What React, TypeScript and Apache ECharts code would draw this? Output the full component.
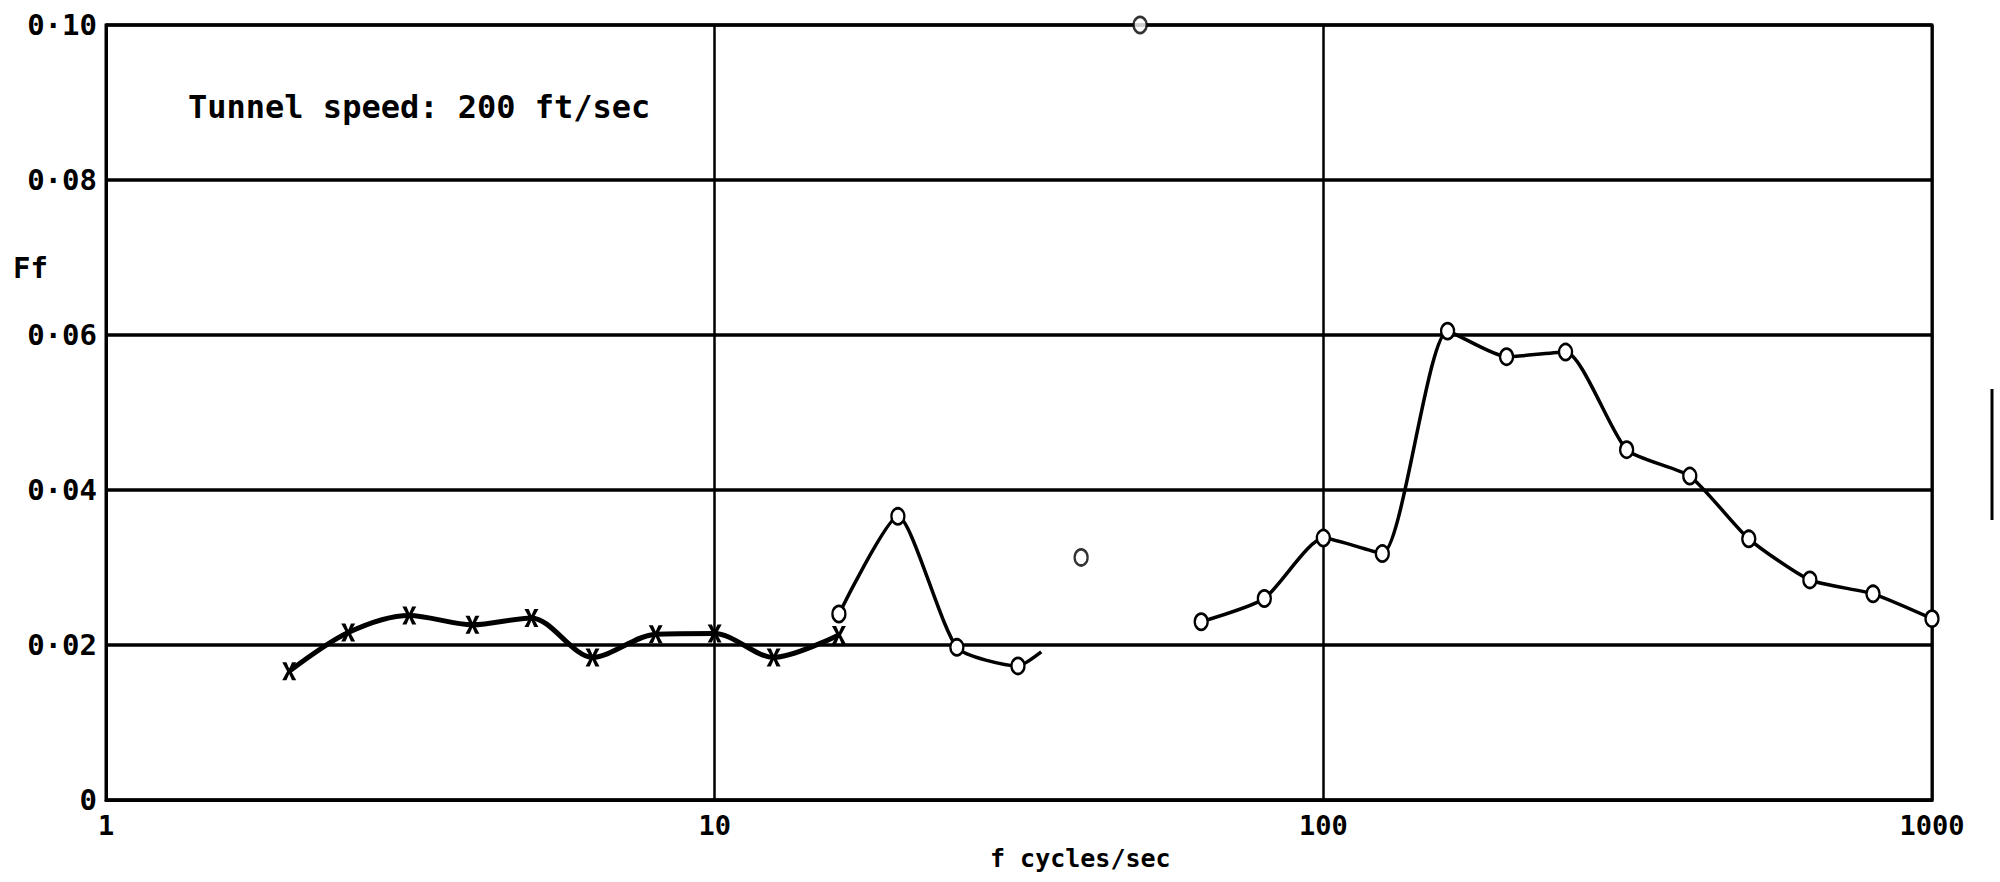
import React, { useEffect, useRef } from "react";
import * as echarts from "echarts";

// Crosses (x markers), one-third-octave frequencies
const FREQ_CROSS = [2, 2.5, 3.15, 4, 5, 6.3, 8, 10, 12.5, 16];
const FF_CROSS = [0.0166, 0.0216, 0.0238, 0.0226, 0.0235, 0.0184, 0.0214, 0.0215, 0.0184, 0.0213];

// Circles, low-frequency connected group (last entry is the curve's end, no marker)
const FREQ_LOW = [16, 20, 25, 31.5, 34.4];
const FF_LOW = [0.024, 0.0366, 0.0197, 0.0173, 0.0191];
const LOW_MARKED = [true, true, true, true, false];

// Isolated circles
const FREQ_ISO = [40, 50];
const FF_ISO = [0.0313, 0.1];

// Circles, high-frequency connected group
const FREQ_HIGH = [63, 80, 100, 125, 160, 200, 250, 315, 400, 500, 630, 800, 1000];
const FF_HIGH = [0.023, 0.026, 0.0338, 0.0318, 0.0605, 0.0572, 0.0578, 0.0452, 0.0418, 0.0337, 0.0284, 0.0266, 0.0234];

const X_TICKS = [1, 10, 100, 1000];
const Y_TICKS = [0, 0.02, 0.04, 0.06, 0.08, 0.1];

const FONT = "'DejaVu Sans Mono', monospace";
const CROSS_PATH =
  "path://M0,0 L3,0 L5,5 L7,0 L10,0 L6.5,7 L10,14 L7,14 L5,9 L3,14 L0,14 L3.5,7 Z";

export default function App() {
  const ref = useRef<HTMLDivElement>(null);

  useEffect(() => {
    document.body.style.margin = "0";
    const chart = echarts.init(ref.current!, undefined, { renderer: "svg" });

    const crossData = FREQ_CROSS.map((f, i) => [f, FF_CROSS[i]]);
    const lowData = FREQ_LOW.map((f, i) =>
      LOW_MARKED[i] ? [f, FF_LOW[i]] : { value: [f, FF_LOW[i]], symbol: "none" }
    );
    const isoData = FREQ_ISO.map((f, i) => [f, FF_ISO[i]]);
    const highData = FREQ_HIGH.map((f, i) => [f, FF_HIGH[i]]);

    const yFmt = (v: number) => {
      if (v === 0) return "0";
      const hundredths = Math.round(v * 100);
      return "0\u00B7" + String(hundredths).padStart(2, "0");
    };

    const circleStyle = {
      color: "#fff",
      borderColor: "#000",
      borderWidth: 2.5,
    };

    chart.setOption({
      animation: false,
      backgroundColor: "#fff",
      grid: {
        left: 106,
        right: 68,
        top: 25,
        bottom: 82,
        show: true,
        borderColor: "#000",
        borderWidth: 3,
      },
      xAxis: {
        type: "log",
        logBase: 10,
        min: X_TICKS[0],
        max: X_TICKS[X_TICKS.length - 1],
        axisLine: { show: true, lineStyle: { color: "#000", width: 3 } },
        axisTick: { show: false },
        splitLine: { show: true, lineStyle: { color: "#000", width: 2.5 } },
        axisLabel: {
          color: "#000",
          fontFamily: FONT,
          fontWeight: "bold",
          fontSize: 27,
          margin: 12,
          formatter: (v: number) => String(Math.round(v)),
        },
      },
      yAxis: {
        type: "value",
        min: Y_TICKS[0],
        max: Y_TICKS[Y_TICKS.length - 1],
        interval: 0.02,
        axisLine: { show: true, lineStyle: { color: "#000", width: 3 } },
        axisTick: { show: false },
        splitLine: { show: true, lineStyle: { color: "#000", width: 3.5 } },
        axisLabel: {
          color: "#000",
          fontFamily: FONT,
          fontWeight: "bold",
          fontSize: 29,
          margin: 9,
          formatter: yFmt,
        },
      },
      graphic: [
        {
          type: "text",
          left: 13,
          top: 253,
          style: { text: "Ff", font: `bold 29px ${FONT}`, fill: "#000" },
        },
        {
          type: "text",
          left: 188,
          top: 91,
          style: { text: "Tunnel speed: 200 ft/sec", font: `bold 32px ${FONT}`, fill: "#000" },
        },
        {
          type: "text",
          left: 990,
          top: 846,
          style: { text: "f cycles/sec", font: `bold 25px ${FONT}`, fill: "#000" },
        },
        {
          type: "line",
          shape: { x1: 1992, y1: 389, x2: 1992, y2: 520 },
          style: { stroke: "#000", lineWidth: 3 },
        },
      ],
      series: [
        {
          type: "line",
          data: crossData,
          smooth: 0.3,
          symbol: CROSS_PATH,
          symbolSize: [14, 18],
          itemStyle: { color: "#000" },
          lineStyle: { color: "#000", width: 5 },
          z: 3,
        },
        {
          type: "line",
          data: lowData,
          smooth: 0.2,
          symbol: "circle",
          symbolSize: [13, 16],
          itemStyle: circleStyle,
          lineStyle: { color: "#000", width: 3.5 },
          z: 4,
        },
        {
          type: "scatter",
          data: isoData,
          symbol: "circle",
          symbolSize: [13, 16],
          itemStyle: circleStyle,
          clip: false,
          z: 4,
        },
        {
          type: "line",
          data: highData,
          smooth: 0.2,
          symbol: "circle",
          symbolSize: [13, 16],
          itemStyle: circleStyle,
          lineStyle: { color: "#000", width: 3.5 },
          z: 4,
        },
      ],
    });

    return () => chart.dispose();
  }, []);

  return <div ref={ref} style={{ width: 2000, height: 882 }} />;
}
